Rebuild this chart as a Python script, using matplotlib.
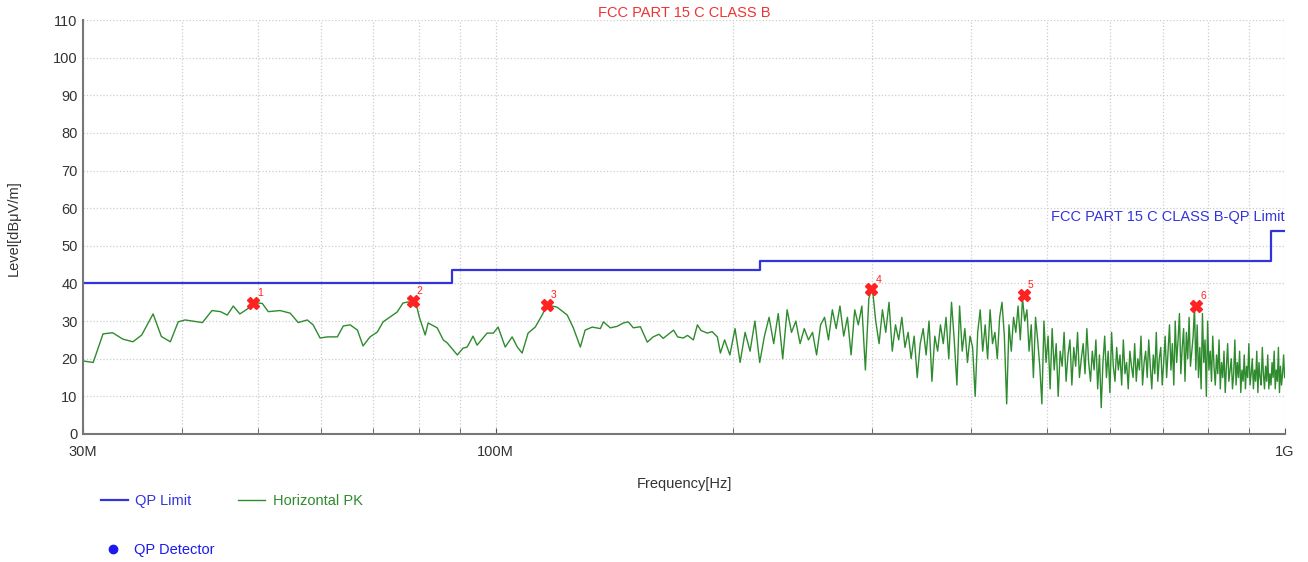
import numpy as np
import matplotlib.pyplot as plt
from matplotlib.lines import Line2D
from matplotlib.ticker import NullFormatter

plt.rcParams['font.family'] = ['Liberation Sans', 'DejaVu Sans']

# limit line (MHz, dBuV/m)
limit_freq = [30, 88, 216, 960, 1000]
limit_level = [40, 43.5, 46, 54, 54]

# low band of the peak trace, read point by point (MHz, dBuV/m)
low_freq = [30.0, 30.9, 31.8, 32.7, 33.7, 34.7, 35.6, 36.8, 37.7, 38.7, 39.6, 40.4,
            42.5, 43.7, 44.8, 45.7, 46.5, 47.4, 48.6, 49.3, 50.6, 51.5, 53.3, 54.9,
            56.2, 57.7, 58.7, 59.9, 61.2, 63.0, 64.1, 65.4, 66.8, 67.9, 69.3, 70.8,
            72.0, 73.5, 75.0, 76.3, 77.5, 79.5, 80.0, 81.4, 82.1, 84.3, 85.8, 86.8,
            89.4, 90.9, 92.0, 93.6, 94.7, 97.5, 99.3, 100.7, 102.8, 104.9, 106.5, 108.0,
            109.9, 112.2, 114.5, 116.2, 119.6, 123.2, 125.4, 128.0, 129.8, 132.5, 135.7, 136.9,
            139.7, 142.5, 145.1, 147.2, 149.4, 152.5, 155.6, 158.3, 161.0, 163.0, 165.0, 168.0,
            170.0, 172.8, 175.0, 178.0, 180.1, 182.0, 185.4, 188.0, 190.9, 192.6]
low_level = [19.4, 19.0, 26.6, 26.9, 25.2, 24.5, 26.3, 31.9, 25.9, 24.5, 29.8, 30.3,
             29.6, 32.8, 32.5, 31.6, 34.0, 31.9, 33.4, 34.9, 34.7, 32.5, 32.8, 32.1,
             29.6, 30.3, 29.0, 25.5, 25.8, 25.8, 28.7, 29.0, 27.6, 23.4, 25.8, 27.1,
             29.8, 31.1, 32.4, 34.8, 35.1, 33.5, 31.1, 26.3, 29.5, 28.2, 25.0, 24.2,
             21.0, 22.8, 23.1, 26.0, 23.6, 26.8, 26.8, 28.4, 23.1, 25.8, 23.1, 21.5,
             26.8, 28.4, 31.6, 34.3, 33.7, 31.6, 28.2, 23.1, 27.6, 28.4, 28.0, 29.8,
             28.2, 28.6, 29.5, 29.8, 28.2, 28.5, 24.4, 25.8, 26.5, 25.4, 26.3, 27.6,
             25.8, 25.5, 26.2, 25.0, 29.0, 27.5, 26.8, 27.2, 25.8, 21.5]

# high band of the peak trace, one value per sweep step
sweep_start = 195.0
sweep_step = 3.0
high_level = [
    25, 21, 28, 19, 27, 22, 30, 19, 26, 31, 24, 32, 20, 33, 27, 30, 24, 28, 25, 27,
    21, 29, 31, 25, 33, 28, 34, 26, 31, 21, 33, 29, 34, 17, 36, 39,
    30, 24, 33, 27, 35, 22, 29, 25, 31, 23, 27, 20, 26, 15, 24, 28, 21, 30, 14, 26,
    22, 29, 24, 31, 20, 35, 25, 13, 34, 22, 28, 19, 26, 23, 10, 27, 33, 22, 29, 20,
    33, 24, 27, 20, 31, 35, 26, 8, 29, 22, 31, 27, 34, 25, 36, 30,
    33, 22, 29, 15, 31, 25, 18, 8,
    30, 19, 26, 12, 28, 17, 24, 10, 22, 18,
    27, 14, 21, 25, 13, 23, 18, 27, 15, 20,
    24, 16, 28, 19, 14, 22, 17, 25, 12, 21,
    7, 19, 26, 15, 22, 11, 27, 18, 14, 23,
    17, 21, 13, 25, 16, 19, 12, 22, 18, 15,
    24, 14, 20, 17, 26, 13, 19, 22, 15, 25,
    18, 12, 21, 16, 27, 14, 20, 23, 13, 19,
    26, 15, 22, 29, 17, 24, 13, 30, 19, 25,
    32, 16, 23, 28, 14, 27, 20, 31, 18, 22,
    26, 34, 17,
    29, 15, 23, 12, 32, 19, 25,
    10, 30, 17, 22, 14, 26, 18, 13, 21, 16,
    25, 12, 19, 15, 22, 11, 18, 24, 14, 17,
    20, 12, 16, 25, 13, 19, 15, 22, 11, 17,
    14, 21, 12, 18, 15, 24, 13, 16, 20, 12,
    17, 14, 22, 11, 19, 15, 13, 23, 16, 12,
    18, 14, 21, 12, 16, 13, 19, 15, 22, 12,
    17, 14, 23, 11, 18, 13, 16, 21, 15]

# peak markers
mark_freq = [49.3, 78.5, 116.1, 299.1, 466.5, 771.6]
mark_level = [34.9, 35.3, 34.3, 38.4, 36.9, 34.1]
mark_label = ['1', '2', '3', '4', '5', '6']

high_freq = sweep_start + sweep_step * np.arange(len(high_level))
trace_freq = np.concatenate([low_freq, high_freq])
trace_level = np.concatenate([low_level, high_level])

blue = '#3333dd'
green = '#2e8b2e'
red = '#ff2222'

fig = plt.figure(figsize=(13.08, 5.62), dpi=100)
ax = fig.add_axes([0.0635, 0.2278, 0.9189, 0.7366])

lim_line, = ax.step(limit_freq, limit_level, where='post', color=blue, lw=1.6, label='QP Limit')
pk_line, = ax.plot(trace_freq, trace_level, color=green, lw=1.0, label='Horizontal PK')
ax.plot(mark_freq, mark_level, ls='none', marker='X', color=red, markersize=8)
for f, l, t in zip(mark_freq, mark_level, mark_label):
    ax.annotate(t, (f, l), xytext=(3, 5), textcoords='offset points',
                color=red, fontsize=7.5)

ax.text(998, 57.6, 'FCC PART 15 C CLASS B-QP Limit', color=blue, fontsize=10.5,
        ha='right', va='center')

ax.set_xscale('log')
ax.set_xlim(30, 1000)
ax.set_ylim(0, 110)
ax.set_xticks([30, 100, 1000], labels=['30M', '100M', '1G'])
ax.set_xticks([40, 50, 60, 70, 80, 90, 200, 300, 400, 500, 600, 700, 800, 900], minor=True)
ax.xaxis.set_minor_formatter(NullFormatter())
ax.set_yticks(range(0, 111, 10))
ax.tick_params(axis='x', which='both', direction='in', length=4, color='#555555',
               labelsize=10.5, pad=8, labelcolor='#333333')
ax.tick_params(axis='y', length=0, labelsize=10.5, pad=4, labelcolor='#333333')
ax.grid(True, which='both', axis='x', color='#cccccc', ls=':', lw=0.9)
ax.grid(True, which='major', axis='y', color='#cccccc', ls=':', lw=0.9)
ax.set_axisbelow(True)
for s in ['top', 'right']:
    ax.spines[s].set_visible(False)
for s in ['left', 'bottom']:
    ax.spines[s].set_color('#777777')
    ax.spines[s].set_linewidth(1.5)

ax.set_title('FCC PART 15 C CLASS B', color='#ee3333', fontsize=10.5, pad=2)
ax.set_xlabel('Frequency[Hz]', fontsize=10.5, color='#333333')
ax.set_ylabel('Level[dB\u03bcV/m]', fontsize=10.5, color='#333333')
ax.xaxis.set_label_coords(0.5, -0.104)
ax.yaxis.set_label_coords(-0.0515, 0.497)

fig.legend(handles=[lim_line, pk_line], loc='center left',
           bbox_to_anchor=(0.0717, 0.1085), ncol=2, frameon=False,
           fontsize=10.5, borderpad=0, handlelength=1.85, handletextpad=0.5,
           columnspacing=3.2, labelcolor='linecolor')
qp = Line2D([], [], ls='none', marker='o', color='#1a1aee', markersize=6, label='QP Detector')
fig.legend(handles=[qp], loc='center left', bbox_to_anchor=(0.0699, 0.0214),
           frameon=False, fontsize=10.5, borderpad=0, handlelength=2.0,
           handletextpad=0.45, labelcolor='#1a1aee')

fig.savefig('out.png', dpi=100)
